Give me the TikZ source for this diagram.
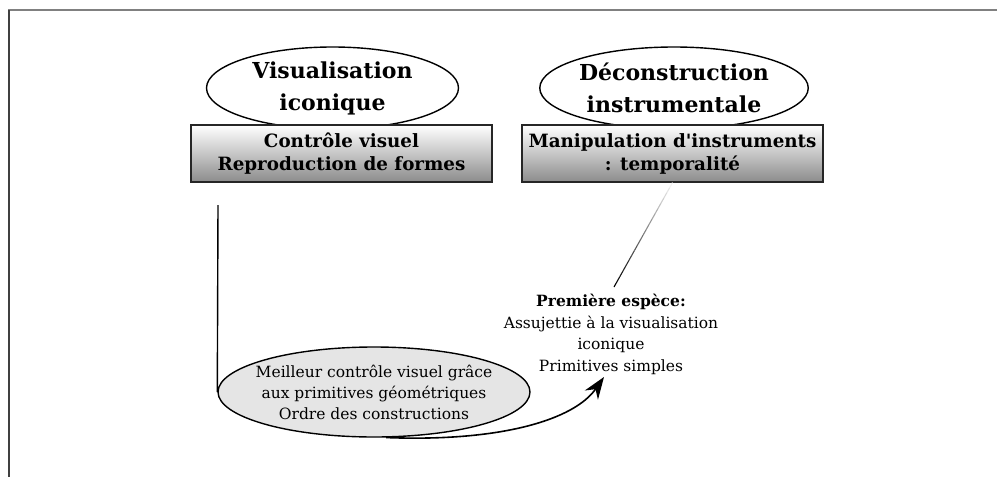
\documentclass[tikz,border=0pt]{standalone}
\usepackage{fontspec}
\setmainfont{DejaVu Serif}
\usetikzlibrary{shapes.geometric, arrows.meta, calc}

\tikzset{
  titre/.style = {draw, ellipse, fill = white, line width = 1.4pt,
    minimum width = 252pt, minimum height = 82pt, inner sep = 0pt,
    align = center, font = \bfseries\fontsize{22}{32}\selectfont},
  boite/.style = {draw = black!85, line width = 1.2pt, top color = white,
    bottom color = black!45, minimum width = 301pt, minimum height = 57pt,
    inner sep = 0pt, align = center, font = \bfseries\fontsize{18.3}{23}\selectfont},
  bulle/.style = {draw, ellipse, fill = black!10, line width = 1.4pt,
    minimum width = 312pt, minimum height = 90pt, inner xsep = -12pt,
    inner ysep = -3pt, align = center, font = \fontsize{15.5}{21}\selectfont},
  texte/.style = {inner sep = 0pt, align = center,
    font = \fontsize{15.5}{21.5}\selectfont}
}

\begin{document}
\begin{tikzpicture}[x = 1pt, y = -1pt]
    \useasboundingbox (0, 0) rectangle (997, 477);

    \coordinate (VI) at (332.5, 88);
    \coordinate (DI) at (674, 88);
    \coordinate (T) at (218, 205);
    \coordinate (G) at (614, 287);
    \coordinate (A) at (604, 377);

    \draw[black!50, line width = 1.5pt] (8, 10) -- (997, 10);
    \draw[black!75, line width = 1.5pt] (9, 10) -- (9, 477);

    \node[titre] (vis) at (VI) {Visualisation\\iconique};
    \node[titre] (dec) at (DI) {Déconstruction\\instrumentale};

    \node[boite] (ctrl) at (341.5, 153.5) {Contrôle visuel\\Reproduction de formes};
    \node[boite] (manip) at (672.5, 153.5) {Manipulation d\textquotesingle instruments\\: temporalité};

    \node[bulle] (meil) at (374, 392) {Meilleur contrôle visuel grâce\\aux primitives géométriques\\Ordre des constructions};

    \node[texte, anchor = north] (prem) at (611, 294)
      {\textbf{Première espèce:}\\Assujettie à la visualisation\\iconique\\Primitives simples};

    \draw[line width = 1.4pt] (T) -- (meil.west);

    \foreach \i in {0,...,19} {
      \pgfmathsetmacro{\a}{\i/20}
      \pgfmathsetmacro{\b}{(\i+1)/20}
      \pgfmathsetmacro{\p}{5 + 5*\i}
      \draw[black!\p, line width = 1.1pt] ($(manip.south)!\a!(G)$) -- ($(manip.south)!\b!(G)$);
    }

    \draw[line width = 1.6pt, -{Stealth[length = 22pt, width = 16pt]}]
      (meil.-75) .. controls (500, 442) and (574, 420) .. (A);
\end{tikzpicture}
\end{document}
